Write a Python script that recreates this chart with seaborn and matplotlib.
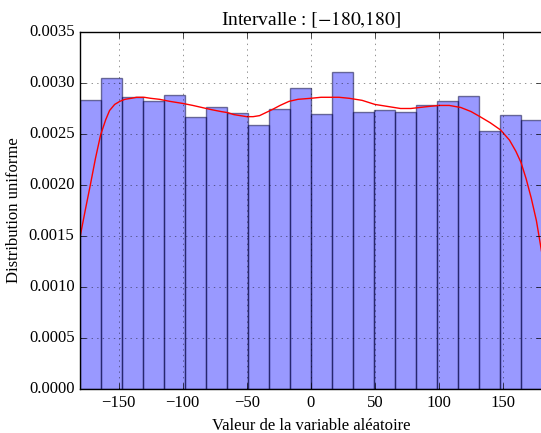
import numpy as np
import pandas as pd
import matplotlib
matplotlib.use('Agg')
import matplotlib.pyplot as plt
import seaborn as sns

# hauteurs des barres (densite), 22 classes sur [-180, 180]
heights = [0.002830, 0.003046, 0.002866, 0.002824, 0.002882, 0.002664,
           0.002762, 0.002709, 0.002591, 0.002742, 0.002948, 0.002693,
           0.003108, 0.002719, 0.002735, 0.002716, 0.002784, 0.002820,
           0.002870, 0.002526, 0.002683, 0.002634]
n_bins = len(heights)
lo, hi = -180, 180

# courbe KDE (rouge)
kde_x = [-180, -176, -172, -168, -164, -160, -157, -153, -149, -145, -140,
         -136, -130, -125, -118, -110, -100, -92, -85, -78, -70, -65, -60,
         -55, -50, -45, -40, -35, -30, -24, -17, -10, 0, 8, 15, 22, 30, 40,
         50, 60, 70, 78, 85, 92, 100, 108, 117, 125, 132, 140, 148, 155, 160,
         164, 168, 172, 176, 180]
kde_y = [0.00149, 0.00175, 0.00200, 0.00226, 0.00249, 0.00264, 0.00273,
         0.00279, 0.00282, 0.00284, 0.00285, 0.00286, 0.00286, 0.00285,
         0.00284, 0.00282, 0.00280, 0.00278, 0.00276, 0.00274, 0.00272,
         0.00271, 0.00269, 0.00268, 0.00267, 0.00267, 0.00268, 0.00271,
         0.00274, 0.00278, 0.00282, 0.00284, 0.00285, 0.00286, 0.00286,
         0.00286, 0.00285, 0.00283, 0.00279, 0.00277, 0.00275, 0.00275,
         0.00276, 0.00277, 0.00278, 0.00278, 0.00276, 0.00272, 0.00267,
         0.00261, 0.00254, 0.00244, 0.00233, 0.00222, 0.00206, 0.00187,
         0.00165, 0.00135]

plt.style.use('classic')
plt.rcParams['font.family'] = ['Liberation Serif', 'DejaVu Serif']
plt.rcParams['mathtext.fontset'] = 'stix'

width = (hi - lo) / n_bins
centers = lo + width * (np.arange(n_bins) + 0.5)
df = pd.DataFrame({'x': centers, 'h': heights})
kde = pd.DataFrame({'x': kde_x, 'y': kde_y})

fig = plt.figure(figsize=(5.41, 4.33), dpi=100)
ax = fig.add_axes([0.148, 0.1016, 0.853, 0.8245])

sns.histplot(data=df, x='x', weights='h', bins=n_bins, binrange=(lo, hi),
             stat='count', color='b', alpha=0.4, edgecolor='k',
             linewidth=1, ax=ax)
for p in ax.patches:
    p.set_edgecolor((0, 0, 0.2, 0.5))
sns.lineplot(data=kde, x='x', y='y', color='r', linewidth=1, ax=ax)

ax.set_xlim(lo, hi)
ax.set_ylim(0, 0.0035)
ax.set_xticks([-150, -100, -50, 0, 50, 100, 150])
ax.set_yticks(np.arange(0, 0.0036, 0.0005))
ax.yaxis.set_major_formatter(matplotlib.ticker.FormatStrFormatter('%.4f'))
ax.grid(True, linestyle=':', color='k', alpha=0.6)
ax.tick_params(labelsize=12)
ax.set_xlabel('Valeur de la variable aléatoire', fontsize=12)
ax.set_ylabel('Distribution uniforme', fontsize=12)
ax.set_title(r'Intervalle : $[-180{,}180]$', fontsize=14)

fig.savefig('out.png', dpi=100)
